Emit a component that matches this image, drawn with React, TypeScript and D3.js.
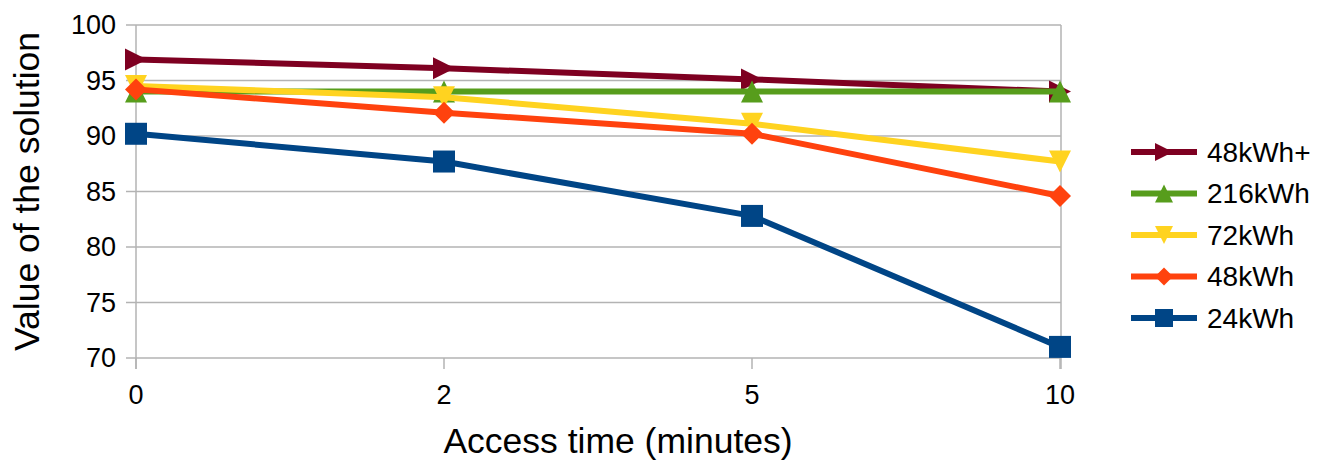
import React from "react";
import * as d3 from "d3";

const categories = ["0", "2", "5", "10"];
const seriesNames = ["48kWh+", "216kWh", "72kWh", "48kWh", "24kWh"];
const s48plus = [96.9, 96.1, 95.1, 94.0];
const s216 = [94.0, 94.0, 94.0, 94.0];
const s72 = [94.5, 93.5, 91.1, 87.7];
const s48 = [94.2, 92.1, 90.2, 84.6];
const s24 = [90.2, 87.7, 82.8, 71.0];
const yTicks = [70, 75, 80, 85, 90, 95, 100];

const seriesValues = [s48plus, s216, s72, s48, s24];
const colors = ["#7e0021", "#579d1c", "#ffd320", "#ff420e", "#004586"];
const markers = ["right", "up", "down", "diamond", "square"];

function markerPath(type: string, s: number) {
  const h = s / 2;
  switch (type) {
    case "right":
      return `M${-h},${-h}L${h},0L${-h},${h}Z`;
    case "up":
      return `M0,${-h}L${h},${h}L${-h},${h}Z`;
    case "down":
      return `M${-h},${-h}L${h},${-h}L0,${h}Z`;
    case "diamond":
      return `M0,${-h}L${h},0L0,${h}L${-h},0Z`;
    default:
      return `M${-h},${-h}L${h},${-h}L${h},${h}L${-h},${h}Z`;
  }
}

export default function App() {
  const W = 1322, H = 464;
  const left = 136, right = 1061, top = 25, bottom = 358;
  const x = d3.scalePoint<string>().domain(categories).range([left, right - 1]);
  const y = d3.scaleLinear().domain([70, 100]).range([bottom, top]);
  const line = d3.line<number>().x((_, i) => x(categories[i])!).y((d) => y(d));
  const font = "'Liberation Sans', Arial, sans-serif";
  const grid = "#b3b3b3";

  return (
    <svg width={W} height={H} style={{ position: "absolute", left: 0, top: 0 }} fontFamily={font}>
      <rect width={W} height={H} fill="#fff" />
      {yTicks.map((t) => (
        <g key={t}>
          <line x1={left - 10} x2={right} y1={y(t)} y2={y(t)} stroke={grid} strokeWidth={1.5} />
          <text x={left - 20} y={y(t)} dy="0.35em" textAnchor="end" fontSize={27} fill="#000">
            {t}
          </text>
        </g>
      ))}
      <line x1={left} x2={left} y1={top} y2={bottom + 11} stroke={grid} strokeWidth={1.5} />
      <line x1={right} x2={right} y1={top} y2={bottom + 11} stroke={grid} strokeWidth={1.5} />
      {categories.map((c) => (
        <g key={c}>
          <line x1={x(c)!} x2={x(c)!} y1={bottom} y2={bottom + 11} stroke={grid} strokeWidth={1.5} />
          <text x={x(c)!} y={395} dy="0.35em" textAnchor="middle" fontSize={27} fill="#000">
            {c}
          </text>
        </g>
      ))}
      {seriesValues.map((vals, si) => (
        <g key={si}>
          <path d={line(vals) || ""} fill="none" stroke={colors[si]} strokeWidth={6} strokeLinejoin="round" />
          {vals.map((v, i) => (
            <path
              key={i}
              transform={`translate(${x(categories[i])},${y(v)})`}
              d={markerPath(markers[si], 22)}
              fill={colors[si]}
            />
          ))}
        </g>
      ))}
      {seriesNames.map((n, i) => {
        const ly = 152 + i * 41.5;
        return (
          <g key={n}>
            <line x1={1131} x2={1197} y1={ly} y2={ly} stroke={colors[i]} strokeWidth={6} />
            <path transform={`translate(1164,${ly})`} d={markerPath(markers[i], 18)} fill={colors[i]} />
            <text x={1207} y={ly} dy="0.35em" fontSize={28} fill="#000">
              {n}
            </text>
          </g>
        );
      })}
      <text x={618} y={441} dy="0.35em" textAnchor="middle" fontSize={35.5} fill="#000">
        Access time (minutes)
      </text>
      <text
        transform={`translate(27,${(top + bottom) / 2}) rotate(-90)`}
        dy="0.35em"
        textAnchor="middle"
        fontSize={35.5}
        fill="#000"
      >
        Value of the solution
      </text>
    </svg>
  );
}
